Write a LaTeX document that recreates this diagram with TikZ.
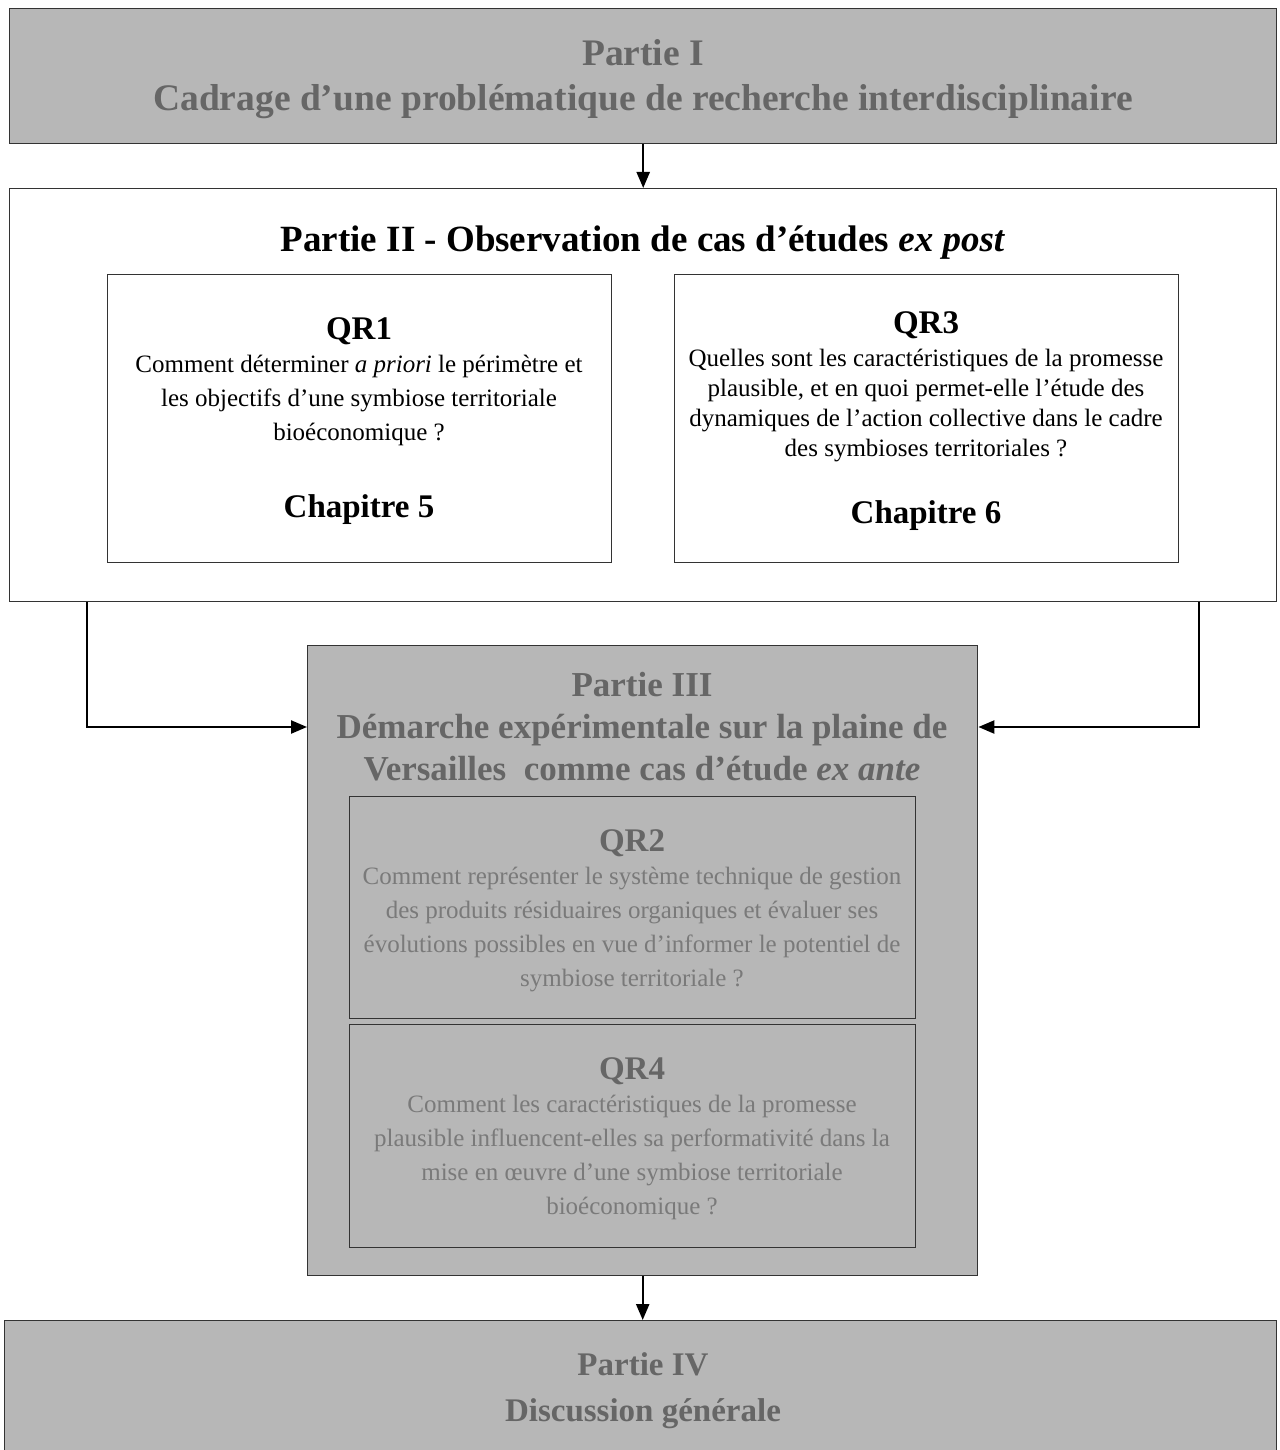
\documentclass[tikz,border=0pt]{standalone}
\usepackage{fontspec}
\setmainfont{Liberation Serif}
\usetikzlibrary{arrows.meta,calc}
\definecolor{boxgray}{HTML}{B7B7B7}
\definecolor{titlegray}{HTML}{666666}
\definecolor{bodygray}{HTML}{7A7A7A}
\definecolor{edgegray}{HTML}{333333}
\begin{document}
\begin{tikzpicture}[x=1pt,y=-1pt,
  graybox/.style={draw=edgegray,line width=1.4pt,fill=boxgray,inner sep=0pt,anchor=north west},
  whitebox/.style={draw=edgegray,line width=1.4pt,fill=white,inner sep=0pt,anchor=north west},
  conn/.style={draw=black,line width=2.3pt,-{Triangle[length=16pt,width=13pt]}},
  txt/.style={inner sep=0pt,anchor=base},
  ptitle/.style={txt,font=\fontsize{37.5}{37.5}\selectfont\bfseries},
  ptitleii/.style={txt,font=\fontsize{37}{37}\selectfont\bfseries},
  ptitleiii/.style={txt,font=\fontsize{35}{35}\selectfont\bfseries},
  ptitleiv/.style={txt,font=\fontsize{33}{33}\selectfont\bfseries},
  qrtitle/.style={txt,font=\fontsize{33}{33}\selectfont\bfseries},
  body/.style={txt,font=\fontsize{25}{25}\selectfont},
  chap/.style={txt,font=\fontsize{33}{33}\selectfont\bfseries}
]
\useasboundingbox (0,0) rectangle (1279,1450);
\clip (0,0) rectangle (1279,1450);
% Partie I
\node[graybox,minimum width=1267pt,minimum height=135pt] (p1) at (9,8) {};
\node[ptitle,text=titlegray] (p1a) at (643,66) {Partie I};
\node[ptitle,text=titlegray] (p1b) at (643,111) {Cadrage d’une problématique de recherche interdisciplinaire};
% Partie II
\node[whitebox,minimum width=1267pt,minimum height=413pt] (p2) at (9,188) {};
\node[ptitleii] (p2a) at (643,251) {Partie II - Observation de cas d’études \textit{ex post}};
% QR1
\node[whitebox,minimum width=504pt,minimum height=288pt] (q1) at (107,274) {};
\node[qrtitle] (q1t) at (359,339) {QR1};
\node[body] (q1a) at (359,372) {Comment déterminer \textit{a priori} le périmètre et};
\node[body] (q1b) at (359,406) {les objectifs d’une symbiose territoriale};
\node[body] (q1c) at (359,440) {bioéconomique ?};
\node[chap] (q1d) at (359,517) {Chapitre 5};
% QR3
\node[whitebox,minimum width=504pt,minimum height=288pt] (q3) at (674,274) {};
\node[qrtitle] (q3t) at (926,333) {QR3};
\node[body] (q3a) at (926,366) {Quelles sont les caractéristiques de la promesse};
\node[body] (q3b) at (926,396) {plausible, et en quoi permet-elle l’étude des};
\node[body] (q3c) at (926,426) {dynamiques de l’action collective dans le cadre};
\node[body] (q3d) at (926,456) {des symbioses territoriales ?};
\node[chap] (q3e) at (926,523) {Chapitre 6};
% Partie III
\node[graybox,minimum width=670pt,minimum height=630pt] (p3) at (307,645) {};
\node[ptitleiii,text=titlegray] (p3a) at (642,696) {Partie III};
\node[ptitleiii,text=titlegray] (p3b) at (642,738) {Démarche expérimentale sur la plaine de};
\node[ptitleiii,text=titlegray] (p3c) at (642,780) {Versailles\ \ comme cas d’étude \textit{ex ante}};
% QR2
\node[graybox,minimum width=566pt,minimum height=222pt] (q2) at (349,796) {};
\node[qrtitle,text=titlegray] (q2t) at (632,851) {QR2};
\node[body,text=bodygray] (q2a) at (632,884) {Comment représenter le système technique de gestion};
\node[body,text=bodygray] (q2b) at (632,918) {des produits résiduaires organiques et évaluer ses};
\node[body,text=bodygray] (q2c) at (632,952) {évolutions possibles en vue d’informer le potentiel de};
\node[body,text=bodygray] (q2d) at (632,986) {symbiose territoriale ?};
% QR4
\node[graybox,minimum width=566pt,minimum height=223pt] (q4) at (349,1024) {};
\node[qrtitle,text=titlegray] (q4t) at (632,1079) {QR4};
\node[body,text=bodygray] (q4a) at (632,1112) {Comment les caractéristiques de la promesse};
\node[body,text=bodygray] (q4b) at (632,1146) {plausible influencent-elles sa performativité dans la};
\node[body,text=bodygray] (q4c) at (632,1180) {mise en œuvre d’une symbiose territoriale};
\node[body,text=bodygray] (q4d) at (632,1214) {bioéconomique ?};
% Partie IV
\node[graybox,minimum width=1272pt,minimum height=160pt] (p4) at (4,1320) {};
\node[ptitleiv,text=titlegray] (p4a) at (643,1375) {Partie IV};
\node[ptitleiv,text=titlegray] (p4b) at (643,1421) {Discussion générale};
% connectors
\draw[conn] (p1.south) -- (p2.north);
\draw[conn] ($(p2.south west)+(78,0)$) |- ($(p3.north west)+(0,82)$);
\draw[conn] ($(p2.south west)+(1190,0)$) |- ($(p3.north east)+(0,82)$);
\draw[conn] (p3.south) -- (p4.north -| p3.south);
\end{tikzpicture}
\end{document}
